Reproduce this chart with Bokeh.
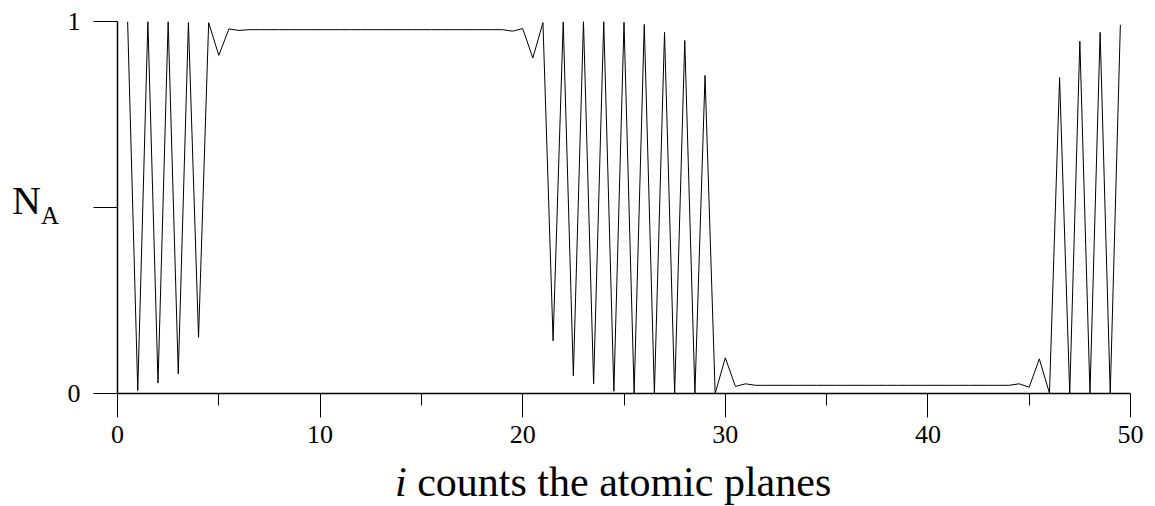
from bokeh.plotting import figure
from bokeh.models import Range1d, FixedTicker, Div
from bokeh.layouts import row, column
from bokeh.embed import file_html
from bokeh.resources import INLINE

# atomic plane index i (half-plane resolution)
planes = [0.5, 1.0, 1.5, 2.0, 2.5, 3.0, 3.5, 4.0, 4.5, 5.0, 5.5, 6.0, 6.5,
          7.0, 7.5, 8.0, 8.5, 9.0, 9.5, 10.0, 10.5, 11.0, 11.5, 12.0, 12.5,
          13.0, 13.5, 14.0, 14.5, 15.0, 15.5, 16.0, 16.5, 17.0, 17.5, 18.0,
          18.5, 19.0, 19.5, 20.0, 20.5, 21.0, 21.5, 22.0, 22.5, 23.0, 23.5,
          24.0, 24.5, 25.0, 25.5, 26.0, 26.5, 27.0, 27.5, 28.0, 28.5, 29.0,
          29.5, 30.0, 30.5, 31.0, 31.5, 32.0, 32.5, 33.0, 33.5, 34.0, 34.5,
          35.0, 35.5, 36.0, 36.5, 37.0, 37.5, 38.0, 38.5, 39.0, 39.5, 40.0,
          40.5, 41.0, 41.5, 42.0, 42.5, 43.0, 43.5, 44.0, 44.5, 45.0, 45.5,
          46.0, 46.5, 47.0, 47.5, 48.0, 48.5, 49.0, 49.5]

n_a = [1.000, 0.008, 1.000, 0.028, 1.000, 0.053, 0.997, 0.151, 0.997, 0.909, 0.980, 0.976, 0.978,
       0.978, 0.978, 0.978, 0.978, 0.978, 0.978, 0.978, 0.978, 0.978, 0.978, 0.978, 0.978,
       0.978, 0.978, 0.978, 0.978, 0.978, 0.978, 0.978, 0.978, 0.978, 0.978, 0.978,
       0.978, 0.978, 0.974, 0.981, 0.902, 0.997, 0.142, 0.999, 0.048, 1.000, 0.026,
       1.000, 0.006, 0.998, 0.000, 0.992, 0.000, 0.971, 0.000, 0.949, 0.000, 0.855,
       0.000, 0.096, 0.019, 0.026, 0.022, 0.022, 0.022, 0.022, 0.022, 0.022, 0.022,
       0.022, 0.022, 0.022, 0.022, 0.022, 0.022, 0.022, 0.022, 0.022, 0.022, 0.022,
       0.022, 0.022, 0.022, 0.022, 0.022, 0.022, 0.022, 0.022, 0.026, 0.017, 0.093,
       0.001, 0.849, 0.000, 0.947, 0.000, 0.971, 0.000, 0.991]

x_major = [0, 10, 20, 30, 40, 50]
x_minor = [5, 15, 25, 35, 45]
y_ticks = [0, 0.5, 1]
y_tick_labels = {0: "0", 0.5: "", 1: "1"}

FONT = "Liberation Serif"

p = figure(width=1095, height=455, output_backend="svg", toolbar_location=None,
           x_range=Range1d(0, 50), y_range=Range1d(0, 1),
           min_border_left=57, min_border_right=25,
           min_border_top=21, min_border_bottom=62, margin=0)
p.outline_line_color = None
p.xgrid.grid_line_color = None
p.ygrid.grid_line_color = None
p.background_fill_color = "white"
p.border_fill_color = "white"

p.line(planes, n_a, line_color="black", line_width=1)

xa = p.xaxis[0]
xa.ticker = FixedTicker(ticks=x_major, minor_ticks=x_minor)
xa.major_tick_out = 24
xa.major_tick_in = 0
xa.minor_tick_out = 12
xa.minor_tick_in = 0
xa.axis_line_width = 1.5
xa.major_tick_line_width = 1
xa.minor_tick_line_width = 1
xa.axis_line_color = "black"
xa.major_tick_line_color = "black"
xa.minor_tick_line_color = "black"
xa.major_label_text_font = FONT
xa.major_label_text_font_size = "26px"
xa.major_label_text_color = "black"
xa.major_label_standoff = 8

ya = p.yaxis[0]
ya.ticker = FixedTicker(ticks=y_ticks, minor_ticks=[])
ya.major_label_overrides = y_tick_labels
ya.major_tick_out = 24
ya.major_tick_in = 0
ya.minor_tick_line_color = None
ya.axis_line_width = 1.5
ya.major_tick_line_width = 1
ya.axis_line_color = "black"
ya.major_tick_line_color = "black"
ya.major_label_text_font = FONT
ya.major_label_text_font_size = "26px"
ya.major_label_text_color = "black"
ya.major_label_standoff = 13

ylabel = Div(width=60, height=506, margin=0, text=(
    '<div style="font-family:\'Liberation Serif\';font-size:40px;line-height:40px;'
    'padding-top:181px;padding-left:12px;color:black;white-space:nowrap;">'
    'N<span style="font-size:25px;position:relative;top:10px;">A</span></div>'))

xlabel = Div(width=1095, height=51, margin=0, text=(
    '<div style="font-family:\'Liberation Serif\';font-size:42px;line-height:33px;'
    'padding-top:11px;padding-left:335px;color:black;white-space:nowrap;">'
    '<i>i</i> counts the atomic planes</div>'))

layout = row(ylabel, column(p, xlabel, spacing=0, margin=0), spacing=0, margin=0)

open("out.html", "w").write(file_html(layout, INLINE))
